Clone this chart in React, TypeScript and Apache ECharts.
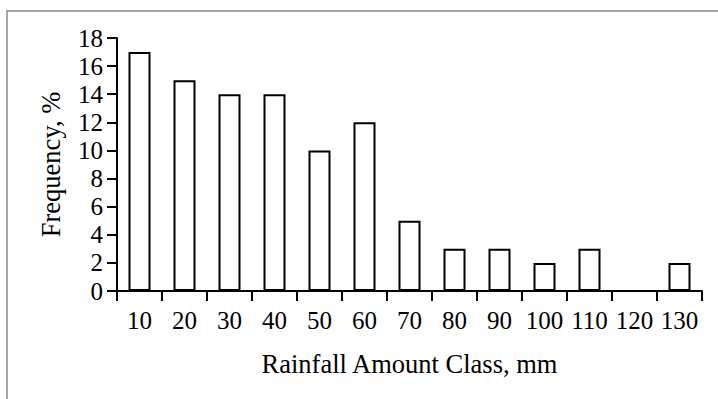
import React, { useEffect, useRef } from "react";
import * as echarts from "echarts";

const categories = ["10", "20", "30", "40", "50", "60", "70", "80", "90", "100", "110", "120", "130"];
const frequency = [17, 15, 14, 14, 10, 12, 5, 3, 3, 2, 3, 0, 2];
const yMin = 0;
const yMax = 18;
const yInterval = 2;

const FONT = "'Liberation Serif', 'Times New Roman', serif";

export default function App() {
  const ref = useRef<HTMLDivElement>(null);
  useEffect(() => {
    if (!ref.current) return;
    const chart = echarts.init(ref.current, undefined, { renderer: "svg" });
    chart.setOption({
      animation: false,
      backgroundColor: "#ffffff",
      textStyle: { fontFamily: FONT, color: "#000" },
      graphic: [
        {
          type: "rect",
          shape: { x: 7, y: 11, width: 900, height: 600 },
          style: { fill: "none", stroke: "#8a8a8a", lineWidth: 1.5 },
          silent: true,
          z: -10,
        },
      ],
      grid: { left: 117, top: 38, right: 16, bottom: 108 },
      xAxis: {
        type: "category",
        data: categories,
        name: "Rainfall Amount Class, mm",
        nameLocation: "middle",
        nameGap: 59,
        nameTextStyle: { fontFamily: FONT, fontSize: 26.5, color: "#000" },
        axisLine: { lineStyle: { color: "#000", width: 2 } },
        axisTick: { show: true, length: 10, lineStyle: { color: "#000", width: 2 } },
        axisLabel: { fontFamily: FONT, fontSize: 25, color: "#000", margin: 17, interval: 0 },
        splitLine: { show: false },
      },
      yAxis: {
        type: "value",
        min: yMin,
        max: yMax,
        interval: yInterval,
        name: "Frequency, %",
        nameLocation: "middle",
        nameGap: 53,
        nameRotate: 90,
        nameTextStyle: { fontFamily: FONT, fontSize: 26.5, color: "#000" },
        axisLine: { show: true, lineStyle: { color: "#000", width: 2 } },
        axisTick: { show: true, length: 10, lineStyle: { color: "#000", width: 2 } },
        axisLabel: { fontFamily: FONT, fontSize: 25, color: "#000", margin: 14 },
        splitLine: { show: false },
      },
      series: [
        {
          type: "bar",
          data: frequency,
          barWidth: 22,
          itemStyle: { color: "#ffffff", borderColor: "#000", borderWidth: 2 },
        },
      ],
    });
    return () => chart.dispose();
  }, []);
  return (
    <div
      ref={ref}
      style={{ position: "absolute", left: 0, top: 0, width: 718, height: 399 }}
    />
  );
}
